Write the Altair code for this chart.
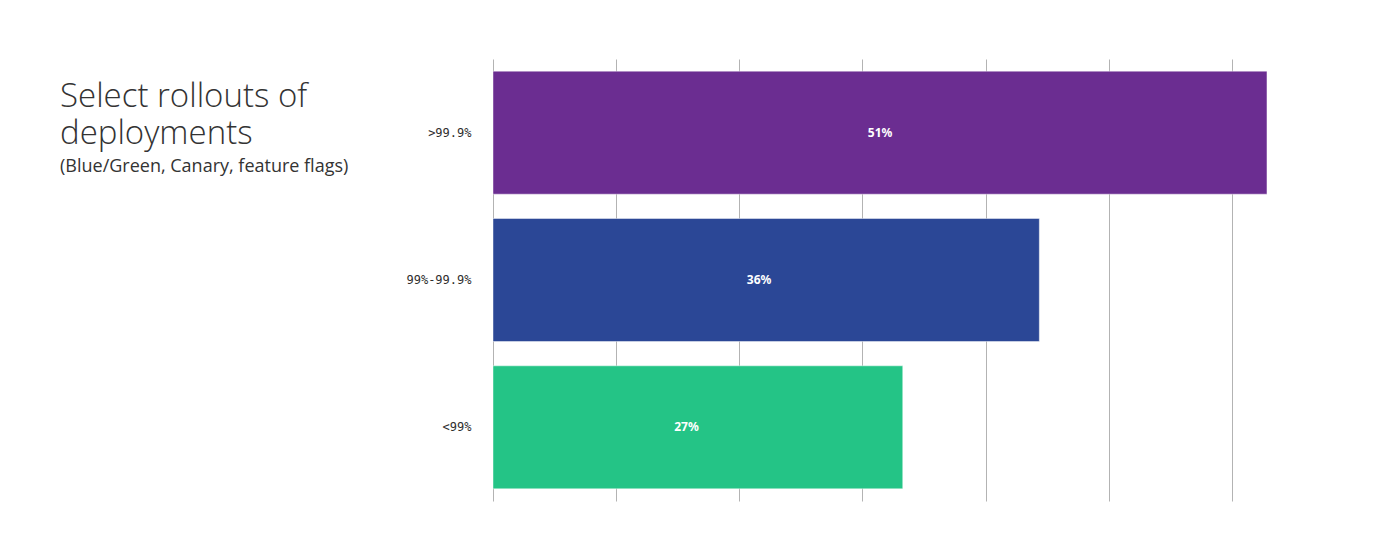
import altair as alt
import pandas as pd

categories = [">99.9%", "99%-99.9%", "<99%"]
values = [51, 36, 27]
labels = ["51%", "36%", "27%"]
colors = ["#6b2d91", "#2b4796", "#24c486"]
grid_values = [0, 8.114, 16.229, 24.343, 32.457, 40.571, 48.686]

df = pd.DataFrame({"cat": categories, "val": values, "label": labels})

base = alt.Chart(df).encode(
    y=alt.Y("cat:N", sort=categories, title=None,
            scale=alt.Scale(paddingInner=0.165, paddingOuter=0.0825),
            axis=alt.Axis(domain=False, ticks=False, labelPadding=22,
                          labelFont="DejaVu Sans Mono", labelFontSize=12,
                          labelColor="#2e2e2e", grid=False))
)

bars = base.mark_bar(stroke="white", strokeOpacity=0.45, strokeWidth=1).encode(
    x=alt.X("val:Q", title=None, scale=alt.Scale(domain=[0, 56.8], nice=False),
            axis=alt.Axis(values=grid_values, domain=False, ticks=False,
                          labels=False, grid=True, gridColor="#b3b3b3",
                          gridWidth=1, gridOpacity=1)),
    color=alt.Color("cat:N", scale=alt.Scale(domain=categories, range=colors),
                    legend=None),
)

text = base.mark_text(color="white", font="Noto Sans", fontWeight="bold",
                      fontSize=12).transform_calculate(
    mid="datum.val * 0.5315 - 1.6"
).encode(
    x=alt.X("mid:Q"),
    text="label:N",
)

chart = (bars + text).properties(
    width=862,
    height=442,
    autosize=alt.AutoSizeParams(type="none"),
    padding={"left": 485, "top": 51, "right": 20, "bottom": 20},
    title=alt.TitleParams(
        text=["Select rollouts of", "deployments"],
        subtitle="(Blue/Green, Canary, feature flags)",
        anchor="start",
        frame="group",
        orient="top",
        align="left",
        dx=-433,
        dy=121,
        font="Open Sans",
        fontSize=33,
        fontWeight=300,
        color="#333333",
        lineHeight=37,
        subtitleFont="Open Sans",
        subtitleFontSize=18,
        subtitleFontWeight=400,
        subtitleColor="#333333",
        subtitlePadding=7,
    ),
).configure_view(stroke=None)

chart.save("out.html", embed_options={"renderer": "svg", "actions": False})
